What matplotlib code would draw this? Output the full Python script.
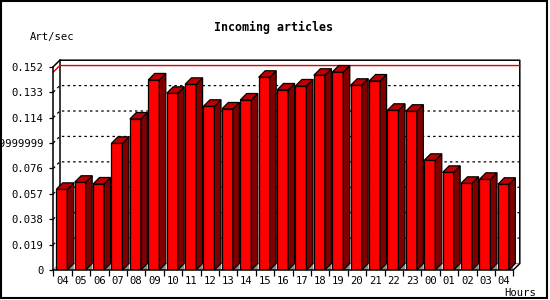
import numpy as np
import matplotlib
matplotlib.use("Agg")
import matplotlib.pyplot as plt
from matplotlib.patches import Rectangle

# data
hours = ['04', '05', '06', '07', '08', '09', '10', '11', '12', '13', '14', '15',
         '16', '17', '18', '19', '20', '21', '22', '23', '00', '01', '02', '03', '04']
art_per_sec = [0.0603, 0.0656, 0.0643, 0.0947, 0.1129, 0.1421, 0.1321, 0.1388,
               0.1224, 0.1204, 0.1271, 0.1441, 0.1346, 0.1376, 0.1456, 0.1480,
               0.1381, 0.1413, 0.1194, 0.1187, 0.0820, 0.0730, 0.0648, 0.0678,
               0.0641]
y_ticks = [0, 0.019, 0.038, 0.057, 0.076, 0.095, 0.114, 0.133, 0.152]
y_labels = ['0', '0.019', '0.038', '0.057', '0.076', '0.0949999999',
            '0.114', '0.133', '0.152']

W, H = 550, 300
FONT = 'DejaVu Sans Mono'
RED, TOP, SIDE, FLOOR = '#ff0000', '#c00000', '#800000', '#8c8c8c'
depth = 6.5  # px of the 3d offset
off = 0.16   # front face start inside a slot
bw = 0.6     # front face width

fig = plt.figure(figsize=(W / 100, H / 100), dpi=100)
ax = fig.add_axes([53.3 / W, 30 / H, 460 / W, 203.3 / H])
n = len(hours)
ymax = y_ticks[-1]
ax.set_xlim(0, n)
ax.set_ylim(0, ymax)

# depth in data units
dx = depth / (460 / n)
dy = depth * ymax / 203.3

lw = 0.9
# back frame, gridlines
for t in y_ticks[1:-1]:
    ax.plot([0, dx, n + dx], [t, t + dy, t + dy], color='black', lw=0.9,
            ls=(0, (2, 2.5)), zorder=1, clip_on=False)
peak = max(art_per_sec)
ax.plot([0, dx, n + dx], [peak, peak + dy, peak + dy], color='#e00000', lw=1.0,
        zorder=1.5, clip_on=False)
ax.plot([0, dx, n + dx, n + dx, n], [ymax, ymax + dy, ymax + dy, dy, 0],
        color='black', lw=1.1, zorder=1, clip_on=False)
ax.plot([dx, dx], [dy, ymax + dy], color='black', lw=1.1, zorder=1, clip_on=False)
ax.plot([0, dx, n + dx], [0, dy, dy], color=FLOOR, lw=0.8, zorder=0.9, clip_on=False)

# bars with side and top faces
x0 = np.arange(n) + off
ax.bar(x0, art_per_sec, width=bw, align='edge', color=RED, edgecolor='black',
       linewidth=lw, zorder=3)
for xl, v in zip(x0, art_per_sec):
    xr = xl + bw
    ax.fill([xr, xr + dx, xr + dx], [0, dy, 0], color=FLOOR, lw=0, zorder=2.5)
    ax.fill([xr, xr, xr + dx, xr + dx], [0, v, v + dy, dy], facecolor=SIDE,
            edgecolor='black', lw=lw, zorder=3, clip_on=False)
    ax.fill([xl, xr, xr + dx, xl + dx], [v, v, v + dy, v + dy], facecolor=TOP,
            edgecolor='black', lw=lw, zorder=3, clip_on=False)

# front axes
for s in ['top', 'right']:
    ax.spines[s].set_visible(False)
for s in ['left', 'bottom']:
    ax.spines[s].set_linewidth(1.1)
    ax.spines[s].set_zorder(4)
ax.set_yticks(y_ticks)
ax.set_yticklabels(y_labels, fontfamily=FONT, fontsize=7.6)
ax.tick_params(axis='y', length=3, width=0.9, pad=4)
ax.set_xticks(np.arange(n + 1))
ax.set_xticklabels([])
ax.set_xticks(np.arange(n) + 0.5, minor=True)
ax.set_xticklabels(hours, minor=True, fontfamily=FONT, fontsize=7.6)
ax.tick_params(axis='x', which='major', length=4, width=0.9)
ax.tick_params(axis='x', which='minor', length=0, pad=4)
ax.patch.set_alpha(0)

fig.text(274 / W, 1 - 27 / H, 'Incoming articles', ha='center', va='center',
         fontfamily=FONT, fontweight='bold', fontsize=8.4)
fig.text(30 / W, 1 - 37 / H, 'Art/sec', ha='left', va='center',
         fontfamily=FONT, fontsize=7.6)
fig.text(504 / W, 1 - 292.5 / H, 'Hours', ha='left', va='center',
         fontfamily=FONT, fontsize=7.6)

fig.add_artist(Rectangle((1 / W, 2 / H), 545.5 / W, 297 / H, transform=fig.transFigure,
                         fill=False, edgecolor='black', lw=1.5))

fig.savefig('out.png', dpi=100)
